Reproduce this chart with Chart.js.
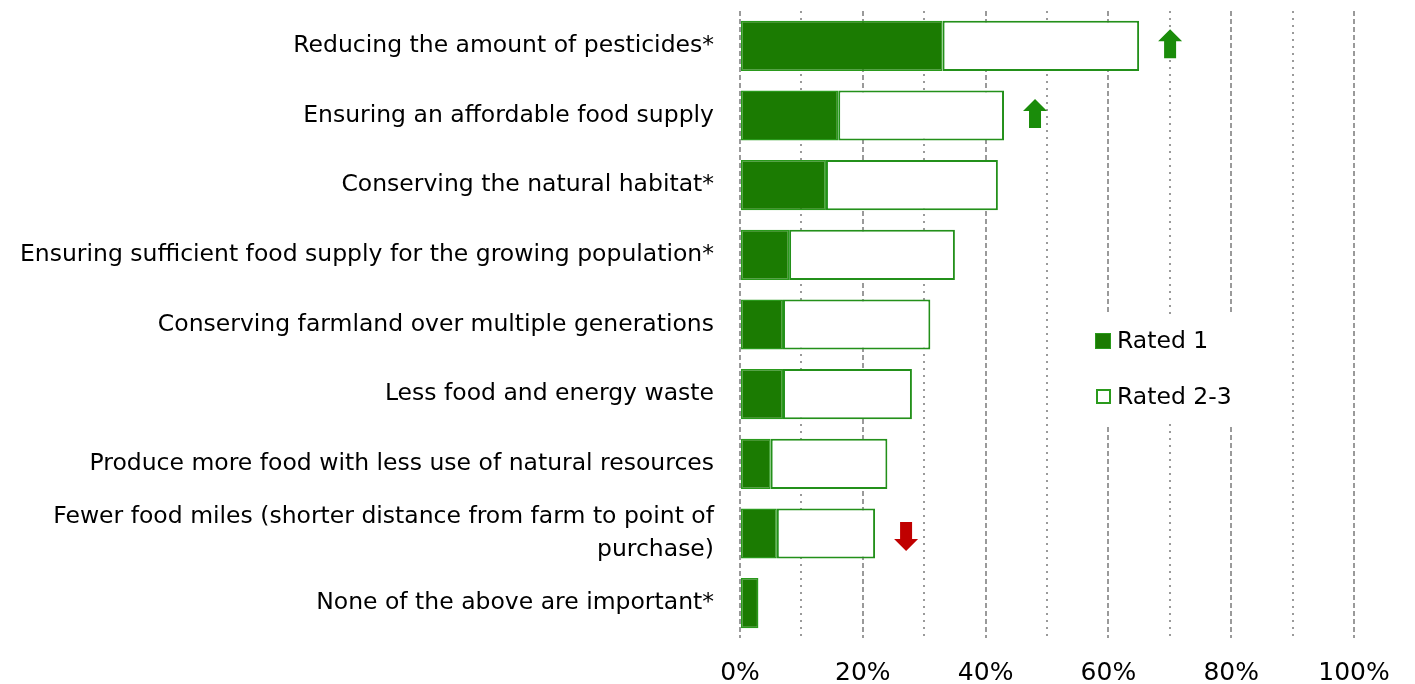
<!DOCTYPE html>
<html>
<head>
<meta charset="utf-8">
<script src="https://cdn.jsdelivr.net/npm/chart.js@4"></script>
<style>
  html, body { margin: 0; padding: 0; background: #fff; }
  #wrap { width: 1415px; height: 684px; }
</style>
</head>
<body>
<div id="wrap"><canvas id="chart" width="1415" height="684"></canvas></div>
<script>
const categories = [
    "Reducing the amount of pesticides*",
    "Ensuring an affordable food supply",
    "Conserving the natural habitat*",
    "Ensuring sufficient food supply for the growing population*",
    "Conserving farmland over multiple generations",
    "Less food and energy waste",
    "Produce more food with less use of natural resources",
    ["Fewer food miles (shorter distance from farm to point of", "purchase)"],
    "None of the above are important*",
];
const rated1 = [33, 16, 14, 8, 7, 7, 5, 6, 3];
const rated23 = [32, 27, 28, 27, 24, 21, 19, 16, 0];
// change vs. previous wave: "up", "down" or null
const trend = ["up", "up", null, null, null, null, null, "down", null];
const xTicks = [0, 20, 40, 60, 80, 100];

const FONT = "DejaVu Sans";
const DARK_GREEN = "#1b7b02";
const EDGE_GREEN = "#2a9a1c";

// legend box + trend arrows
const extras = {
    id: "extras",
    afterDatasetsDraw(chart) {
        const { ctx, scales } = chart;
        const x = scales.x, y = scales.y;
        ctx.save();

        // arrows next to the bar ends
        trend.forEach((t, i) => {
            if (!t) return;
            const total = rated1[i] + rated23[i];
            const cx = x.getPixelForValue(total) + 31;
            const cy = y.getPixelForValue(i) + (t === "up" ? -2 : 3);
            const h = 29, head = 12, hw = 12, sw = 6;
            ctx.fillStyle = t === "up" ? "#1a8c0a" : "#c00000";
            ctx.beginPath();
            if (t === "up") {
                const top = cy - h / 2;
                ctx.moveTo(cx, top);
                ctx.lineTo(cx + hw, top + head);
                ctx.lineTo(cx + sw, top + head);
                ctx.lineTo(cx + sw, top + h);
                ctx.lineTo(cx - sw, top + h);
                ctx.lineTo(cx - sw, top + head);
                ctx.lineTo(cx - hw, top + head);
            } else {
                const bot = cy + h / 2;
                ctx.moveTo(cx, bot);
                ctx.lineTo(cx + hw, bot - head);
                ctx.lineTo(cx + sw, bot - head);
                ctx.lineTo(cx + sw, bot - h);
                ctx.lineTo(cx - sw, bot - h);
                ctx.lineTo(cx - sw, bot - head);
                ctx.lineTo(cx - hw, bot - head);
            }
            ctx.closePath();
            ctx.fill();
        });

        // legend, sitting over the grid
        ctx.fillStyle = "#fff";
        ctx.fillRect(1090, 314, 170, 110);
        ctx.font = "23.5px '" + FONT + "'";
        ctx.textBaseline = "middle";
        ctx.textAlign = "left";
        chart.data.datasets.forEach((ds, i) => {
            const ly = 341 + i * 56;
            if (i === 0) {
                ctx.fillStyle = DARK_GREEN;
                ctx.fillRect(1095, ly - 8, 16, 16);
                ctx.strokeStyle = EDGE_GREEN;
                ctx.lineWidth = 1;
                ctx.strokeRect(1095.5, ly - 7.5, 15, 15);
            } else {
                ctx.strokeStyle = EDGE_GREEN;
                ctx.lineWidth = 2;
                ctx.strokeRect(1097, ly - 7, 13, 13);
            }
            ctx.fillStyle = "#000";
            ctx.fillText(ds.label, 1117, ly + 1);
        });
        ctx.restore();
    },
};

new Chart(document.getElementById("chart"), {
    type: "bar",
    data: {
        labels: categories,
        datasets: [
            {
                label: "Rated 1",
                data: rated1,
                backgroundColor: DARK_GREEN,
                borderColor: EDGE_GREEN,
                borderWidth: 1.5,
                borderSkipped: false,
            },
            {
                label: "Rated 2-3",
                data: rated23,
                backgroundColor: "#ffffff",
                borderColor: "#23901a",
                borderWidth: 2,
                borderSkipped: false,
            },
        ],
    },
    options: {
        indexAxis: "y",
        responsive: false,
        animation: false,
        events: [],
        layout: { padding: { top: 11, left: 16, right: 61, bottom: 0 } },
        datasets: { bar: { categoryPercentage: 0.72, barPercentage: 1 } },
        scales: {
            x: {
                stacked: true,
                min: 0,
                max: 100,
                afterBuildTicks(scale) {
                    const t = [];
                    for (let v = 0; v <= 100; v += 10) t.push({ value: v });
                    scale.ticks = t;
                },
                afterFit(scale) { scale.height = 46; },
                ticks: {
                    autoSkip: false,
                    maxRotation: 0,
                    padding: 20,
                    color: "#000",
                    font: { family: FONT, size: 25 },
                    callback: (v) => (xTicks.includes(v) ? v + "%" : ""),
                },
                grid: {
                    drawTicks: false,
                    color: "#9a9a9a",
                    lineWidth: 2,
                },
                border: {
                    display: false,
                    dash: (ctx) => (ctx.tick && ctx.tick.value % 20 === 0 ? [5, 3] : [2, 5]),
                },
            },
            y: {
                stacked: true,
                afterFit(scale) {
                    scale.width = 724;
                    scale.paddingTop = 0;
                    scale.paddingBottom = 0;
                },
                grid: { display: false, drawTicks: false },
                border: { display: false },
                ticks: {
                    padding: 26,
                    color: "#000",
                    font: { family: FONT, size: 23.5, lineHeight: 1.4 },
                },
            },
        },
        plugins: {
            legend: { display: false },
            tooltip: { enabled: false },
        },
    },
    plugins: [extras],
});
</script>
</body>
</html>
